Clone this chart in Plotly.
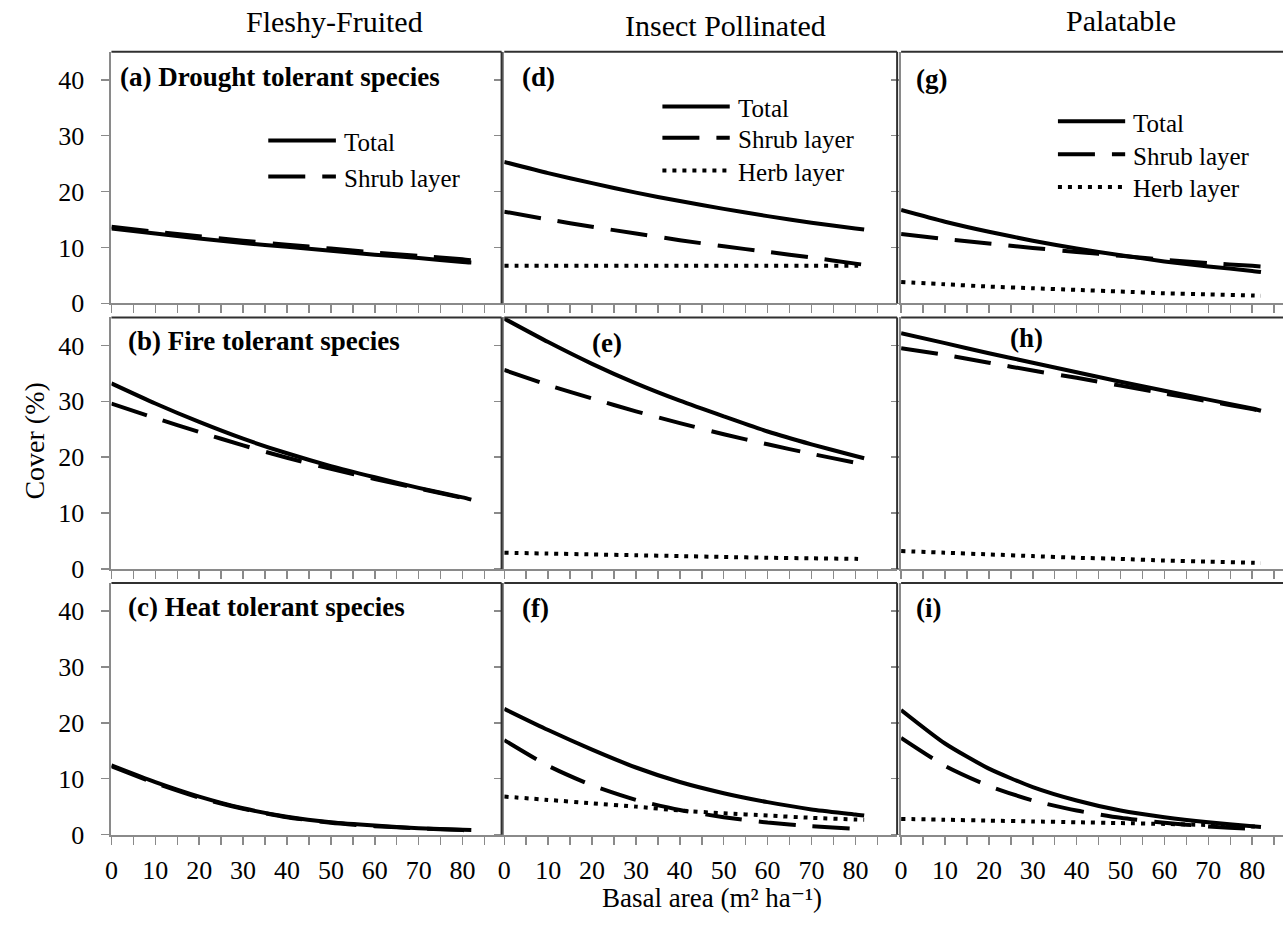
import plotly.graph_objects as go

# ---------------- data ----------------
basal_area = [0, 10, 20, 30, 40, 50, 60, 70, 80, 82]

a_total = [13.4, 12.5, 11.6, 10.8, 10.1, 9.4, 8.7, 8.1, 7.4, 7.3]
a_shrub = [13.7, 12.8, 12.0, 11.2, 10.5, 9.8, 9.1, 8.5, 7.9, 7.7]
b_total = [33.2, 29.6, 26.3, 23.3, 20.7, 18.4, 16.4, 14.5, 12.8, 12.4]
b_shrub = [29.6, 27.0, 24.5, 22.1, 19.9, 17.9, 16.1, 14.4, 12.7, 12.3]
c_total = [12.4, 9.4, 6.8, 4.7, 3.2, 2.2, 1.6, 1.15, 0.85, 0.8]
c_shrub = [12.2, 9.2, 6.6, 4.6, 3.1, 2.1, 1.5, 1.1, 0.8, 0.75]

d_total = [25.3, 23.3, 21.5, 19.8, 18.3, 16.9, 15.6, 14.4, 13.4, 13.2]
d_shrub = [16.4, 15.0, 13.7, 12.5, 11.3, 10.2, 9.2, 8.2, 7.1, 6.9]
d_herb = [6.7, 6.7, 6.7, 6.7, 6.7, 6.7, 6.7, 6.7, 6.7, 6.7]
e_total = [44.8, 40.6, 36.7, 33.2, 30.1, 27.3, 24.6, 22.3, 20.2, 19.8]
e_shrub = [35.6, 32.9, 30.5, 28.2, 26.1, 24.1, 22.3, 20.6, 19.0, 18.7]
e_herb = [2.9, 2.75, 2.6, 2.45, 2.3, 2.15, 2.0, 1.9, 1.8, 1.75]
f_total = [22.5, 18.7, 15.2, 12.0, 9.4, 7.4, 5.8, 4.5, 3.6, 3.4]
f_shrub = [16.9, 12.3, 8.8, 6.2, 4.4, 3.1, 2.15, 1.5, 1.05, 1.0]
f_herb = [6.8, 6.2, 5.6, 5.0, 4.3, 3.8, 3.4, 3.0, 2.7, 2.65]

g_total = [16.7, 14.6, 12.8, 11.2, 9.8, 8.6, 7.5, 6.6, 5.8, 5.6]
g_shrub = [12.4, 11.5, 10.7, 9.9, 9.2, 8.5, 7.8, 7.2, 6.7, 6.6]
g_herb = [3.8, 3.4, 3.0, 2.7, 2.4, 2.1, 1.8, 1.6, 1.4, 1.35]
h_total = [42.2, 40.4, 38.6, 36.9, 35.2, 33.5, 31.9, 30.3, 28.7, 28.3]
h_shrub = [39.5, 38.3, 36.9, 35.5, 34.2, 32.8, 31.4, 30.0, 28.6, 28.3]
h_herb = [3.2, 2.9, 2.6, 2.3, 2.0, 1.8, 1.5, 1.3, 1.1, 1.05]
i_total = [22.3, 16.3, 11.8, 8.5, 6.1, 4.3, 3.1, 2.2, 1.5, 1.35]
i_shrub = [17.3, 12.3, 8.7, 6.1, 4.3, 3.0, 2.1, 1.45, 1.0, 0.95]
i_herb = [2.8, 2.65, 2.5, 2.35, 2.2, 2.05, 1.9, 1.7, 1.45, 1.4]

col_titles = ["Fleshy-Fruited", "Insect Pollinated", "Palatable"]
panel_labels = [
    ["(a) Drought tolerant species", "(d)", "(g)"],
    ["(b) Fire tolerant species", "(e)", "(h)"],
    ["(c) Heat tolerant species", "(f)", "(i)"],
]
series_names = ["Total", "Shrub layer", "Herb layer"]
y_tick_vals = [0, 10, 20, 30, 40]
x_tick_vals = [0, 10, 20, 30, 40, 50, 60, 70, 80]
x_minor_vals = [5, 15, 25, 35, 45, 55, 65, 75, 85]
x_title = "Basal area (m\u00b2 ha\u207b\u00b9)"
y_title = "Cover (%)"

panel_series = [
    [[a_total, a_shrub], [d_total, d_shrub, d_herb], [g_total, g_shrub, g_herb]],
    [[b_total, b_shrub], [e_total, e_shrub, e_herb], [h_total, h_shrub, h_herb]],
    [[c_total, c_shrub], [f_total, f_shrub, f_herb], [i_total, i_shrub, i_herb]],
]

# ---------------- layout constants ----------------
W, H = 1283, 926
FONT = "Liberation Serif, Times New Roman, DejaVu Serif, serif"
col_px = [(105, 497.3), (500, 895), (899, 1283)]
row_px = [(52.7, 308.3), (322.7, 578.3), (592.7, 848.3)]
PX_PER_UNIT = 4.413
Y_MAX = 45
AXIS_GREY = "#8a8a8a"
BORDER = "#303030"
styles = [
    dict(color="black", width=4, dash="solid"),
    dict(color="black", width=4, dash="37px,17px"),
    dict(color="black", width=4, dash="4px,6px"),
]


def fx(x):
    return x / W


def fy(y):
    return 1 - y / H


fig = go.Figure()
layout = dict(
    width=W, height=H,
    margin=dict(l=0, r=0, t=0, b=0),
    paper_bgcolor="white", plot_bgcolor="white",
    showlegend=False,
    font=dict(family=FONT, color="black", size=26),
)
shapes = []
annotations = []

for r in range(3):
    for c in range(3):
        k = r * 3 + c + 1
        xa = "x" if k == 1 else f"x{k}"
        ya = "y" if k == 1 else f"y{k}"
        x0p, x1p = col_px[c]
        y0p, y1p = row_px[r]
        for s, vals in enumerate(panel_series[r][c]):
            fig.add_trace(go.Scatter(
                x=basal_area, y=vals, mode="lines", name=series_names[s],
                line=dict(shape="spline", smoothing=0.6, **styles[s]),
                xaxis=xa, yaxis=ya, showlegend=False,
                hoverinfo="skip",
            ))
        bottom = r == 2
        left = c == 0
        layout["xaxis" if k == 1 else f"xaxis{k}"] = dict(
            domain=[fx(x0p), fx(x1p)], anchor=ya,
            range=[0, (x1p - x0p) / PX_PER_UNIT],
            showgrid=False, zeroline=False,
            showline=True, linecolor=AXIS_GREY, linewidth=2,
            ticks="outside", ticklen=8, tickwidth=1.5, tickcolor=AXIS_GREY,
            tickmode="array", tickvals=x_tick_vals,
            minor=dict(tickmode="array", tickvals=x_minor_vals, ticks="outside",
                       ticklen=8, tickwidth=1.5, tickcolor=AXIS_GREY, showgrid=False),
            showticklabels=bottom, ticklabelstandoff=3,
            tickfont=dict(family=FONT, size=26, color="black"),
            fixedrange=True,
        )
        layout["yaxis" if k == 1 else f"yaxis{k}"] = dict(
            domain=[fy(y1p), fy(y0p)], anchor=xa,
            range=[0, Y_MAX],
            showgrid=False, zeroline=False,
            showline=True, linecolor=AXIS_GREY, linewidth=2,
            ticks="outside", ticklen=8, tickwidth=1.5, tickcolor=AXIS_GREY,
            tickmode="array", tickvals=y_tick_vals,
            showticklabels=left, ticklabelstandoff=12,
            tickfont=dict(family=FONT, size=26, color="black"),
            fixedrange=True,
        )
        # dark top / right frame of each plot area
        shapes.append(dict(type="line", xref="paper", yref="paper",
                           x0=fx(x0p), x1=fx(x1p), y0=fy(y0p), y1=fy(y0p),
                           line=dict(color=BORDER, width=2)))
        if c < 2:
            shapes.append(dict(type="line", xref="paper", yref="paper",
                               x0=fx(x1p), x1=fx(x1p), y0=fy(y0p), y1=fy(y1p),
                               line=dict(color=BORDER, width=2)))

# panel labels
label_pos = [
    [(111.7, 78), (515.7, 78.3), (911.7, 80)],
    [(119.3, 346.7), (586.7, 348.3), (1006.7, 343.3)],
    [(119.3, 616.7), (515.7, 618.3), (912.3, 618.3)],
]
for r in range(3):
    for c in range(3):
        lx, ly = label_pos[r][c]
        annotations.append(dict(
            xref="paper", yref="paper", x=fx(lx), y=fy(ly),
            xanchor="left", yanchor="middle", showarrow=False,
            text=f"<b>{panel_labels[r][c]}</b>",
            font=dict(family=FONT, size=27, color="black"),
        ))

# in-panel legends (sample line + text)
legend_boxes = [
    (262.7, 330.7, 336.7, [142.7, 179.3]),
    (659.0, 726.7, 733.3, [108.3, 140.0, 173.3]),
    (1056.7, 1124.3, 1130.0, [123.3, 156.7, 190.0]),
]
for sx0, sx1, tx, ys in legend_boxes:
    for s, yy in enumerate(ys):
        shapes.append(dict(type="line", xref="paper", yref="paper",
                           x0=fx(sx0), x1=fx(sx1), y0=fy(yy), y1=fy(yy),
                           line=dict(color="black", width=4, dash=styles[s]["dash"])))
        annotations.append(dict(
            xref="paper", yref="paper", x=fx(tx), y=fy(yy + 2),
            xanchor="left", yanchor="middle", showarrow=False,
            text=series_names[s],
            font=dict(family=FONT, size=25, color="black"),
        ))

# column titles
title_pos = [(329, 22), (722, 26), (1120, 21)]
for t, (tx, ty) in zip(col_titles, title_pos):
    annotations.append(dict(
        xref="paper", yref="paper", x=fx(tx), y=fy(ty),
        xanchor="center", yanchor="middle", showarrow=False,
        text=t, font=dict(family=FONT, size=30, color="black"),
    ))

# axis titles
annotations.append(dict(
    xref="paper", yref="paper", x=fx(709), y=fy(930),
    xanchor="center", yanchor="bottom", showarrow=False,
    text=x_title, font=dict(family=FONT, size=27, color="black"),
))
annotations.append(dict(
    xref="paper", yref="paper", x=fx(28), y=fy(448),
    xanchor="center", yanchor="middle", showarrow=False, textangle=-90,
    text=y_title, font=dict(family=FONT, size=28, color="black"),
))

layout["shapes"] = shapes
layout["annotations"] = annotations
fig.update_layout(**layout)

fig.write_html("out.html", config=dict(displayModeBar=False, staticPlot=True),
               post_script="document.body.style.margin='0';document.body.style.overflow='hidden';")
